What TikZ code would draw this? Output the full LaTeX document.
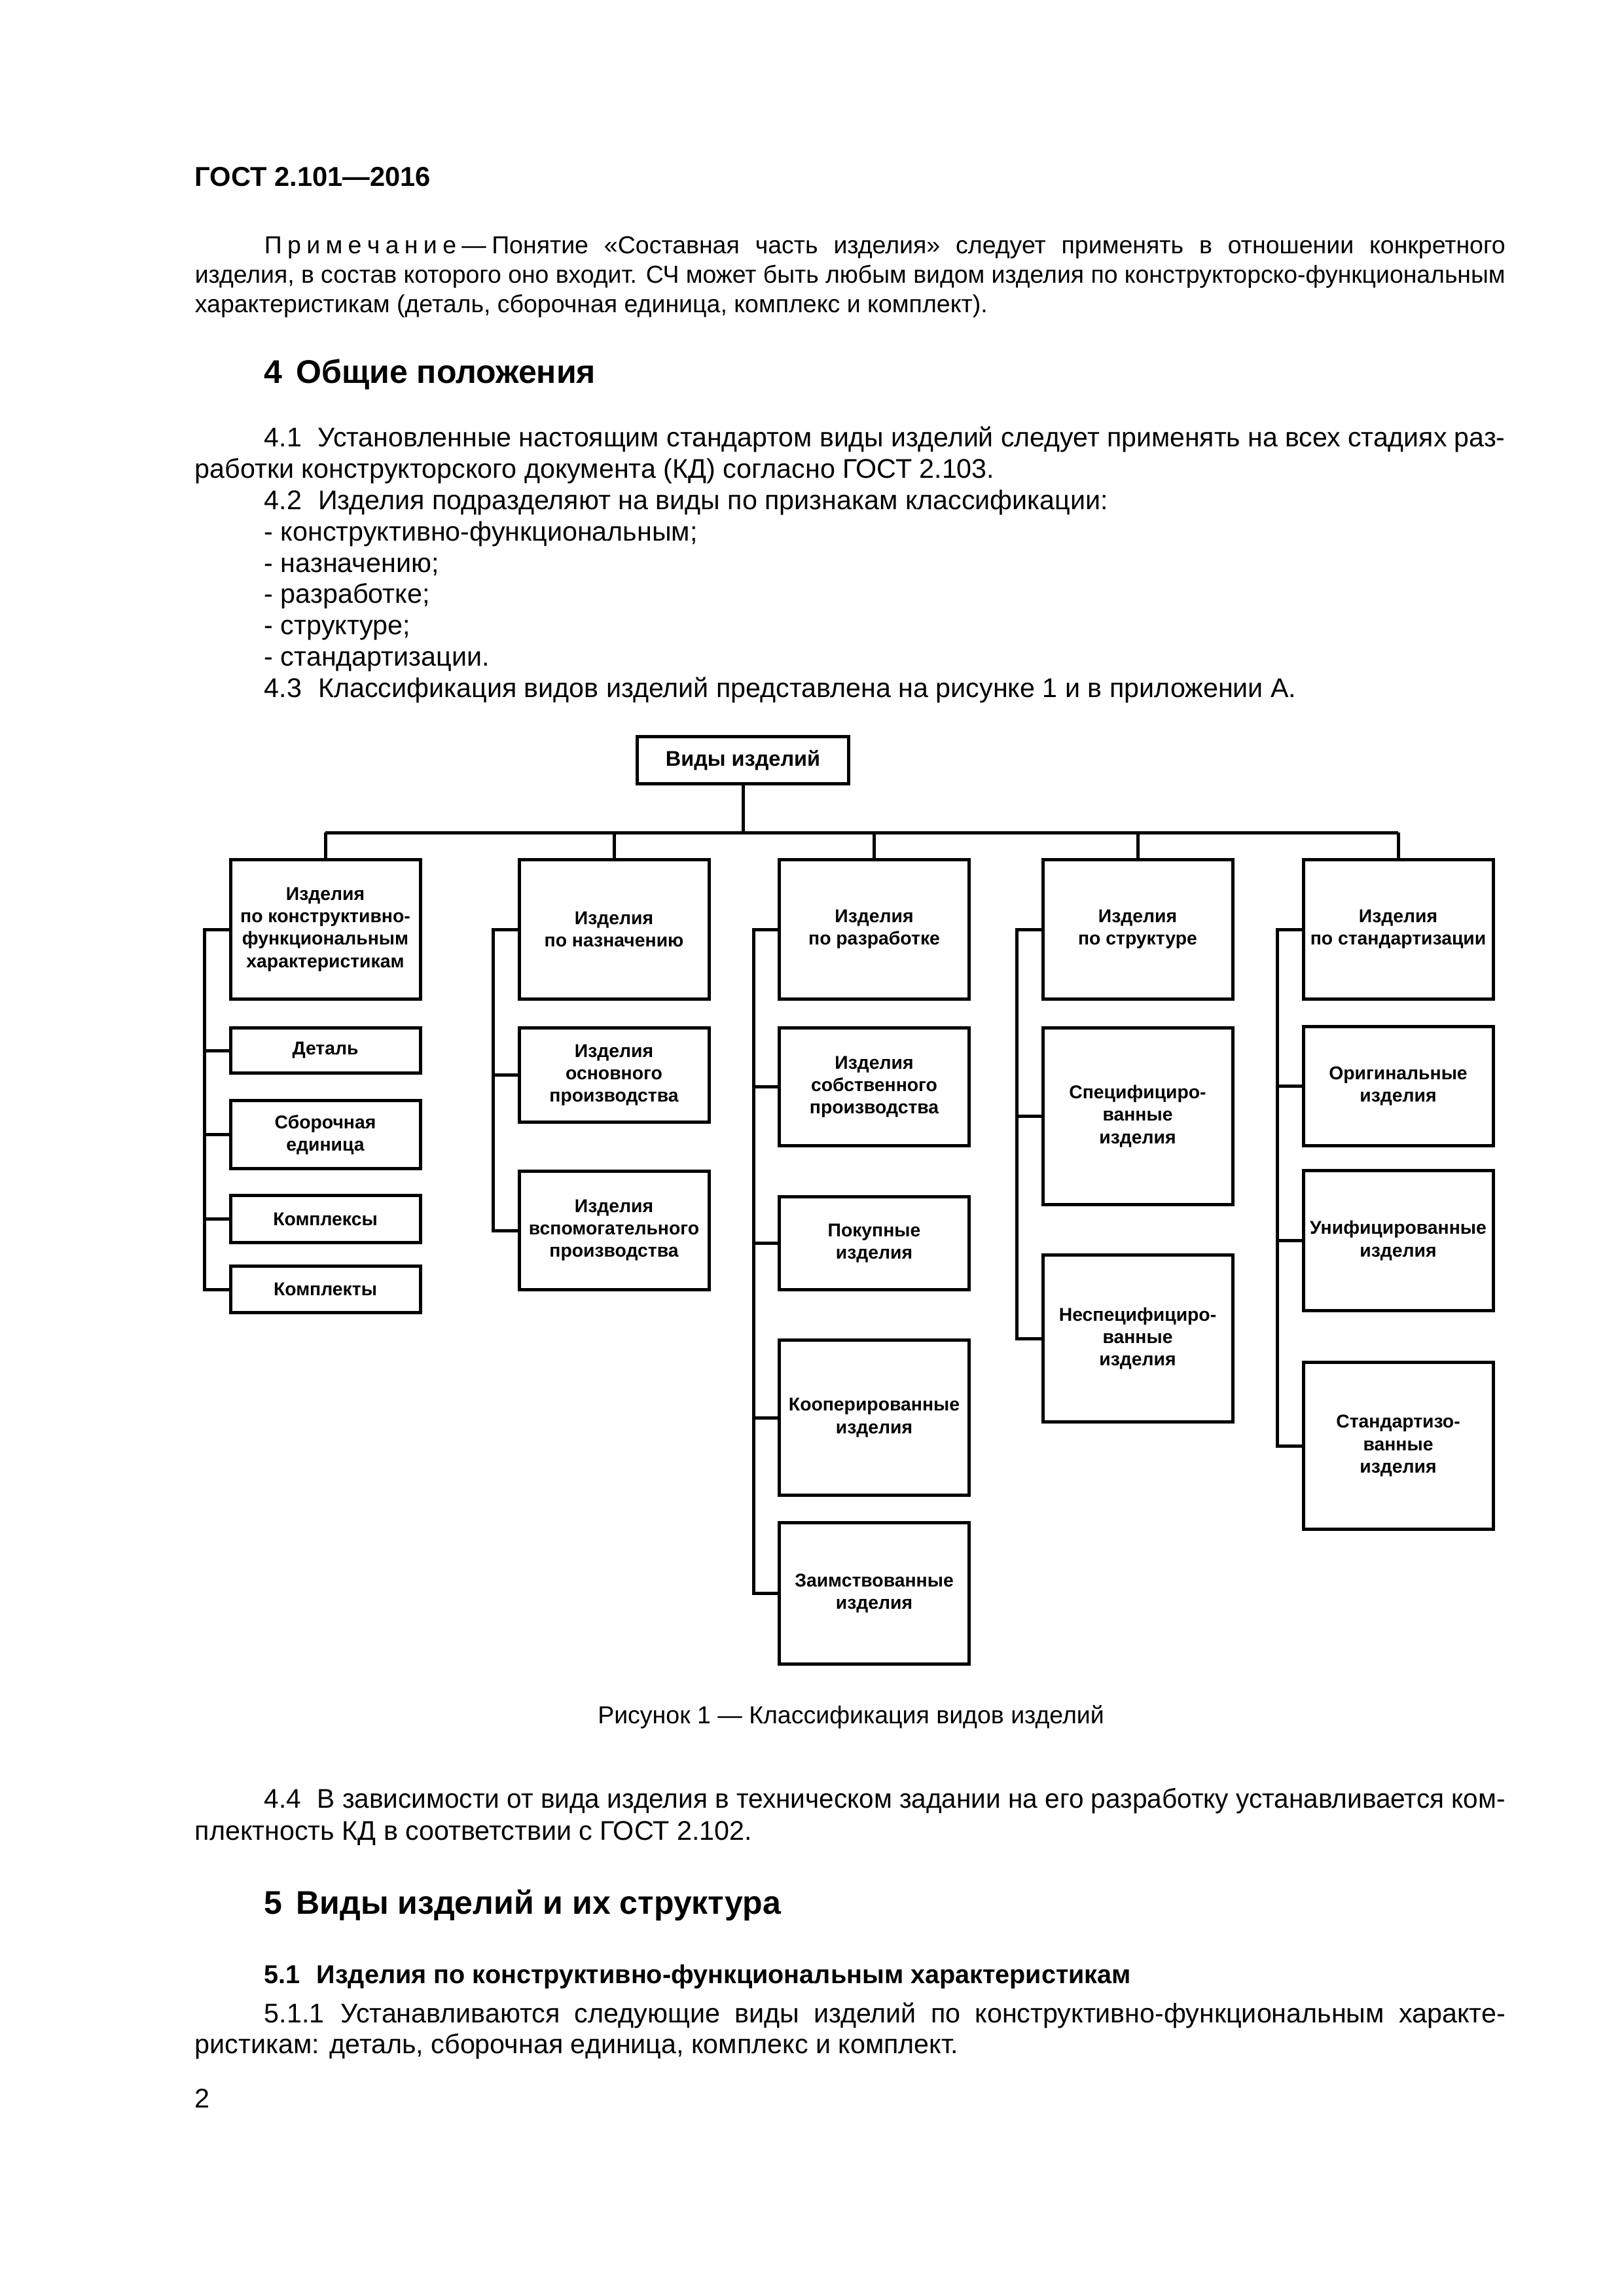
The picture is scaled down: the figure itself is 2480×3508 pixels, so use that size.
\documentclass[tikz,border=0pt]{standalone}
\usepackage{fontspec}
\setmainfont{Liberation Sans}
\usepackage{graphicx}
\usetikzlibrary{calc}
\newcommand\jl[2]{\setbox0=\hbox{#2}\ifdim\wd0>#1\relax\pgfmathsetmacro\jr{#1/\the\wd0}\scalebox{\jr}[1]{\box0}\else\makebox[#1][s]{#2}\fi}
\newcommand\lsp{\hspace{2pt}}
\tikzset{
  txt/.style={inner sep=0pt, anchor=base west, font=\fontsize{9.9}{11.5}\selectfont},
  note/.style={txt, font=\fontsize{9}{10.5}\selectfont},
  hd/.style={txt, font=\fontsize{12}{14}\selectfont\bfseries},
  bx/.style={draw, line width=1.2pt, inner sep=0pt, align=center, minimum width=290*0.24003pt,
     font=\fontsize{6.8}{8.2}\selectfont\bfseries},
  ln/.style={line width=1.2pt}
}
\begin{document}
\begin{tikzpicture}[x=0.24003pt,y=-0.24003pt]
\useasboundingbox[fill=white] (0,0) rectangle (2480,3508);
% header text
\node[txt, font=\fontsize{10}{11.5}\selectfont\bfseries] (gost) at (297,284) {ГОСТ 2.101—2016};
\node[note] (n1) at (403,387) {\jl{455.1pt}{П\lsp р\lsp и\lsp м\lsp е\lsp ч\lsp а\lsp н\lsp и\lsp е\hspace{2pt}—\hspace{2pt}Понятие «Составная часть изделия» следует применять в отношении конкретного}};
\node[note] (n2) at (297,432) {\jl{480.5pt}{изделия, в состав которого оно входит. СЧ может быть любым видом изделия по конструкторско-функциональным}};
\node[note] (n3) at (297,477) {характеристикам (деталь, сборочная единица, комплекс и комплект).};
\node[hd] (s4) at (403,585) {4\hspace{5pt}Общие положения};
\node[txt] (p1) at (403,682) {\jl{455.1pt}{4.1\hspace{6pt}Установленные настоящим стандартом виды изделий следует применять на всех стадиях раз-}};
\node[txt] (p2) at (297,730) {работки конструкторского документа (КД) согласно ГОСТ 2.103.};
\node[txt] (p3) at (403,778) {4.2\hspace{6pt}Изделия подразделяют на виды по признакам классификации:};
\node[txt] (p4) at (403,826) {- конструктивно-функциональным;};
\node[txt] (p5) at (403,874) {- назначению;};
\node[txt] (p6) at (403,921) {- разработке;};
\node[txt] (p7) at (403,969) {- структуре;};
\node[txt] (p8) at (403,1017) {- стандартизации.};
\node[txt] (p9) at (403,1065) {4.3\hspace{6pt}Классификация видов изделий представлена на рисунке 1 и в приложении А.};
% diagram
\node[bx, minimum width=323*0.24003pt, minimum height=72*0.24003pt, font=\fontsize{7.8}{9}\selectfont\bfseries] (top) at (1135,1161.5) {Виды изделий};
\node[bx, minimum height=213*0.24003pt] (h1) at (497,1420) {Изделия\\по конструктивно-\\функциональным\\характеристикам};
\node[bx, minimum height=213*0.24003pt] (h2) at (938,1420) {Изделия\\по назначению};
\node[bx, minimum height=213*0.24003pt] (h3) at (1335.5,1420) {Изделия\\по разработке};
\node[bx, minimum height=213*0.24003pt] (h4) at (1738,1420) {Изделия\\по структуре};
\node[bx, minimum height=213*0.24003pt] (h5) at (2136,1420) {Изделия\\по стандартизации};
% column 1
\node[bx, minimum height=69*0.24003pt] (a1) at (497,1605) {Деталь};
\node[bx, minimum height=104*0.24003pt] (a2) at (497,1733.5) {Сборочная\\единица};
\node[bx, minimum height=72*0.24003pt] (a3) at (497,1862.5) {Комплексы};
\node[bx, minimum height=71*0.24003pt] (a4) at (497,1970) {Комплекты};
% column 2
\node[bx, minimum height=144*0.24003pt] (b1) at (938,1642.5) {Изделия\\основного\\производства};
\node[bx, minimum height=181*0.24003pt] (b2) at (938,1880) {Изделия\\вспомогательного\\производства};
% column 3
\node[bx, minimum height=180*0.24003pt] (c1) at (1335.5,1660.5) {Изделия\\собственного\\производства};
\node[bx, minimum height=142*0.24003pt] (c2) at (1335.5,1899.5) {Покупные\\изделия};
\node[bx, minimum height=237*0.24003pt] (c3) at (1335.5,2166) {Кооперированные\\изделия};
\node[bx, minimum height=216*0.24003pt] (c4) at (1335.5,2434.5) {Заимствованные\\изделия};
% column 4
\node[bx, minimum height=270*0.24003pt] (d1) at (1738,1705.5) {Специфициро-\\ванные\\изделия};
\node[bx, minimum height=255*0.24003pt] (d2) at (1738,2045) {Неспецифициро-\\ванные\\изделия};
% column 5
\node[bx, minimum height=182*0.24003pt] (e1) at (2136,1659.5) {Оригинальные\\изделия};
\node[bx, minimum height=214*0.24003pt] (e2) at (2136,1895.5) {Унифицированные\\изделия};
\node[bx, minimum height=255*0.24003pt] (e3) at (2136,2209) {Стандартизо-\\ванные\\изделия};
% connectors
\coordinate (bus) at (1135,1272);
\draw[ln] (top.south) -- (top.south |- bus);
\draw[ln] (h1.north |- bus) -- (h5.north |- bus);
\foreach \h in {h1,h2,h3,h4,h5} \draw[ln] (\h.north) -- (\h.north |- bus);
\draw[ln] (h1.west) -- ++(-37,0) |- (a4.west);
\foreach \k in {a1,a2,a3} \draw[ln] (\k.west) -- ++(-37,0);
\draw[ln] (h2.west) -- ++(-37,0) |- (b2.west);
\draw[ln] (b1.west) -- ++(-37,0);
\draw[ln] (h3.west) -- ++(-37,0) |- (c4.west);
\foreach \k in {c1,c2,c3} \draw[ln] (\k.west) -- ++(-37,0);
\draw[ln] (h4.west) -- ++(-37,0) |- (d2.west);
\draw[ln] (d1.west) -- ++(-37,0);
\draw[ln] (h5.west) -- ++(-37,0) |- (e3.west);
\foreach \k in {e1,e2} \draw[ln] (\k.west) -- ++(-37,0);
% caption and following text
\node[txt, anchor=base, font=\fontsize{9}{10.5}\selectfont] (cap) at (1300,2633) {Рисунок 1 — Классификация видов изделий};
\node[txt] (q1) at (403,2762) {\jl{455.1pt}{4.4\hspace{6pt}В зависимости от вида изделия в техническом задании на его разработку устанавливается ком-}};
\node[txt] (q2) at (297,2811) {плектность КД в соответствии с ГОСТ 2.102.};
\node[hd] (s5) at (403,2924) {5\hspace{5pt}Виды изделий и их структура};
\node[txt, font=\fontsize{9.5}{11}\selectfont\bfseries] (s51) at (403,3030) {5.1\hspace{6pt}Изделия по конструктивно-функциональным характеристикам};
\node[txt] (r1) at (403,3090) {\jl{455.1pt}{5.1.1\hspace{6pt}Устанавливаются следующие виды изделий по конструктивно-функциональным характе-}};
\node[txt] (r2) at (297,3137) {ристикам: деталь, сборочная единица, комплекс и комплект.};
\node[txt] (pg) at (297,3220) {2};
\end{tikzpicture}
\end{document}
